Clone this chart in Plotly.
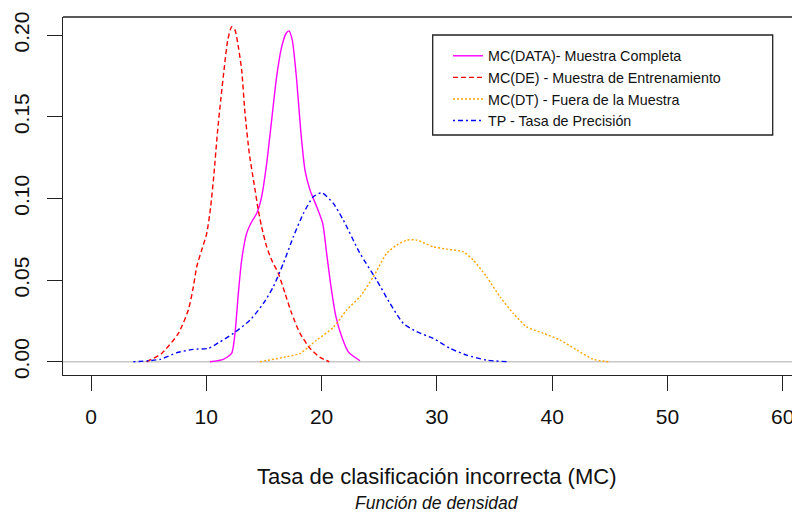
import plotly.graph_objects as go

# ---- data (kernel density curves) ----
data_x = [10.32, 11.48, 12.2, 12.49, 12.78, 13.07, 13.5, 13.94, 14.37, 14.8, 15.24, 15.67, 16.1, 16.54,
          16.92, 17.18, 17.46, 17.84, 18.19, 18.56, 19.0, 19.58, 20.1, 20.44, 20.82, 21.25, 21.75, 22.32, 23.33]
data_y = [0, 0.0015, 0.0051, 0.0174, 0.0419, 0.0623, 0.0786, 0.0857, 0.0908, 0.101, 0.1215, 0.148, 0.1745, 0.1928,
          0.201, 0.2026, 0.1969, 0.1725, 0.1418, 0.1174, 0.1051, 0.0949, 0.0847, 0.0664, 0.0459, 0.0275, 0.0153, 0.0061, 0.0006]

de_x = [4.83, 6.13, 7.58, 8.44, 8.88, 9.17, 9.6, 10.04, 10.38, 10.67, 10.96, 11.25, 11.57, 11.86, 12.2, 12.49,
        12.78, 13.07, 13.36, 13.73, 14.14, 14.51, 14.8, 15.24, 15.67, 16.25, 16.83, 17.41, 18.13, 19.0, 19.86, 20.67]
de_y = [0, 0.0051, 0.0174, 0.0317, 0.0459, 0.0582, 0.0684, 0.0786, 0.0949, 0.1153, 0.1398, 0.1602, 0.1806, 0.1969,
        0.2051, 0.2031, 0.1928, 0.1786, 0.1521, 0.1276, 0.1092, 0.0929, 0.0826, 0.0704, 0.0623, 0.0541, 0.0419,
        0.0296, 0.0174, 0.0082, 0.0027, 0]

dt_x = [14.66, 16.98, 18.13, 19.58, 21.02, 22.18, 23.33, 24.49, 25.65, 26.52, 27.39, 28.25, 29.69, 30.85, 32.3,
        33.16, 34.32, 35.48, 36.63, 37.79, 39.24, 40.68, 42.13, 43.57, 44.87]
dt_y = [0, 0.0031, 0.0051, 0.0133, 0.021, 0.0317, 0.0398, 0.052, 0.0664, 0.0714, 0.0745, 0.0745, 0.0704, 0.069,
        0.0673, 0.0623, 0.052, 0.0398, 0.0296, 0.0214, 0.0174, 0.0133, 0.0072, 0.0015, 0]

tp_x = [3.67, 5.99, 7.43, 8.87, 10.18, 11.05, 12.35, 13.79, 14.95, 15.81, 16.68, 17.55, 18.42, 19.28, 20.01, 21.02,
        21.89, 23.33, 24.78, 25.94, 27.09, 28.25, 29.69, 31.14, 32.59, 34.32, 36.2]
tp_y = [0, 0.0015, 0.0055, 0.0076, 0.0082, 0.0116, 0.0174, 0.0255, 0.0357, 0.0459, 0.0602, 0.0765, 0.0908, 0.101,
        0.1035, 0.097, 0.0867, 0.0664, 0.05, 0.0357, 0.0235, 0.0184, 0.0143, 0.0082, 0.0041, 0.001, 0]

series_names = ["MC(DATA)- Muestra Completa", "MC(DE) - Muestra de Entrenamiento",
                "MC(DT) - Fuera de la Muestra", "TP - Tasa de Precisión"]
x_ticks = [0, 10, 20, 30, 40, 50, 60]
y_ticks = [0.00, 0.05, 0.10, 0.15, 0.20]
y_tick_text = ["0.00", "0.05", "0.10", "0.15", "0.20"]
x_title = "Tasa de clasificación incorrecta (MC)"
subtitle = "Función de densidad"

SANS = "Liberation Sans, Arial, sans-serif"

styles = [
    dict(color="#FF00FF", dash="solid"),
    dict(color="#FF0000", dash="5px,3px"),
    dict(color="#FFA500", dash="2px,2px"),
    dict(color="#0000FF", dash="2px,3px,5px,3px"),
]
series = [(data_x, data_y), (de_x, de_y), (dt_x, dt_y), (tp_x, tp_y)]

fig = go.Figure()
for (xs, ys), name, st in zip(series, series_names, styles):
    fig.add_trace(go.Scatter(
        x=xs, y=ys, mode="lines", name=name,
        line=dict(color=st["color"], dash=st["dash"], width=1.4, shape="spline", smoothing=0.6),
        hoverinfo="skip",
    ))

# the page adds an 8px body margin: lay out in page pixels, then convert
OFF = 8
W, H = 800 - OFF, 515 - OFF
PLOT_L, PLOT_T, PLOT_B = 63, 17, 375          # page pixels
ML, MT, MR = PLOT_L - OFF, PLOT_T - OFF, 0
MB = H - (PLOT_B - OFF)
PW, PH = W - ML - MR, H - MT - MB

def px_x(p):
    return (p - OFF - ML) / PW

def px_y(p):
    return (PLOT_B - p) / PH

fig.update_layout(
    width=W, height=H, autosize=False,
    margin=dict(l=ML, r=MR, t=MT, b=MB, pad=0),
    paper_bgcolor="white", plot_bgcolor="white",
    font=dict(family=SANS, color="#000000"),
    showlegend=True,
    legend=dict(
        x=px_x(448), y=px_y(40), xanchor="left", yanchor="top",
        bgcolor="rgba(0,0,0,0)", borderwidth=0,
        font=dict(family=SANS, size=14.3, color="#111111"),
        itemwidth=30, tracegroupgap=0,
    ),
    xaxis=dict(
        range=[-2.429, 61.50], tickvals=x_ticks, ticktext=[str(v) for v in x_ticks],
        showgrid=False, zeroline=False, showline=True, linecolor="#222222", linewidth=1.3,
        ticks="outside", ticklen=15, tickwidth=1.3, tickcolor="#222222",
        tickfont=dict(family=SANS, size=21, color="#111111"),
        ticklabelstandoff=8,
    ),
    yaxis=dict(
        range=[-0.0081, 0.2111], tickvals=y_ticks, ticktext=y_tick_text,
        showgrid=False, zeroline=False, showline=True, linecolor="#222222", linewidth=1.3,
        ticks="outside", ticklen=15, tickwidth=1.3, tickcolor="#222222",
        tickfont=dict(family=SANS, size=21, color="#111111"),
        tickangle=-90, ticklabelstandoff=9,
    ),
    shapes=[
        dict(type="line", xref="paper", yref="y", x0=0, x1=1, y0=0, y1=0,
             line=dict(color="#C8C8C8", width=1.5), layer="below"),
        dict(type="line", xref="paper", yref="paper", x0=0, x1=1, y0=1, y1=1,
             line=dict(color="#222222", width=1.3)),
        dict(type="rect", xref="paper", yref="paper",
             x0=px_x(432.7), x1=px_x(772.7), y0=px_y(135), y1=px_y(35),
             line=dict(color="#222222", width=1.3), fillcolor="rgba(0,0,0,0)"),
    ],
    annotations=[
        dict(text=x_title, xref="x", yref="paper", x=30, y=px_y(476.7), xanchor="center", yanchor="middle",
             showarrow=False, font=dict(family=SANS, size=22, color="#111111")),
        dict(text="<i>" + subtitle + "</i>", xref="x", yref="paper", x=30, y=px_y(503), xanchor="center",
             yanchor="middle", showarrow=False, font=dict(family=SANS, size=17.5, color="#111111")),
    ],
)

fig.write_html("out.html")
